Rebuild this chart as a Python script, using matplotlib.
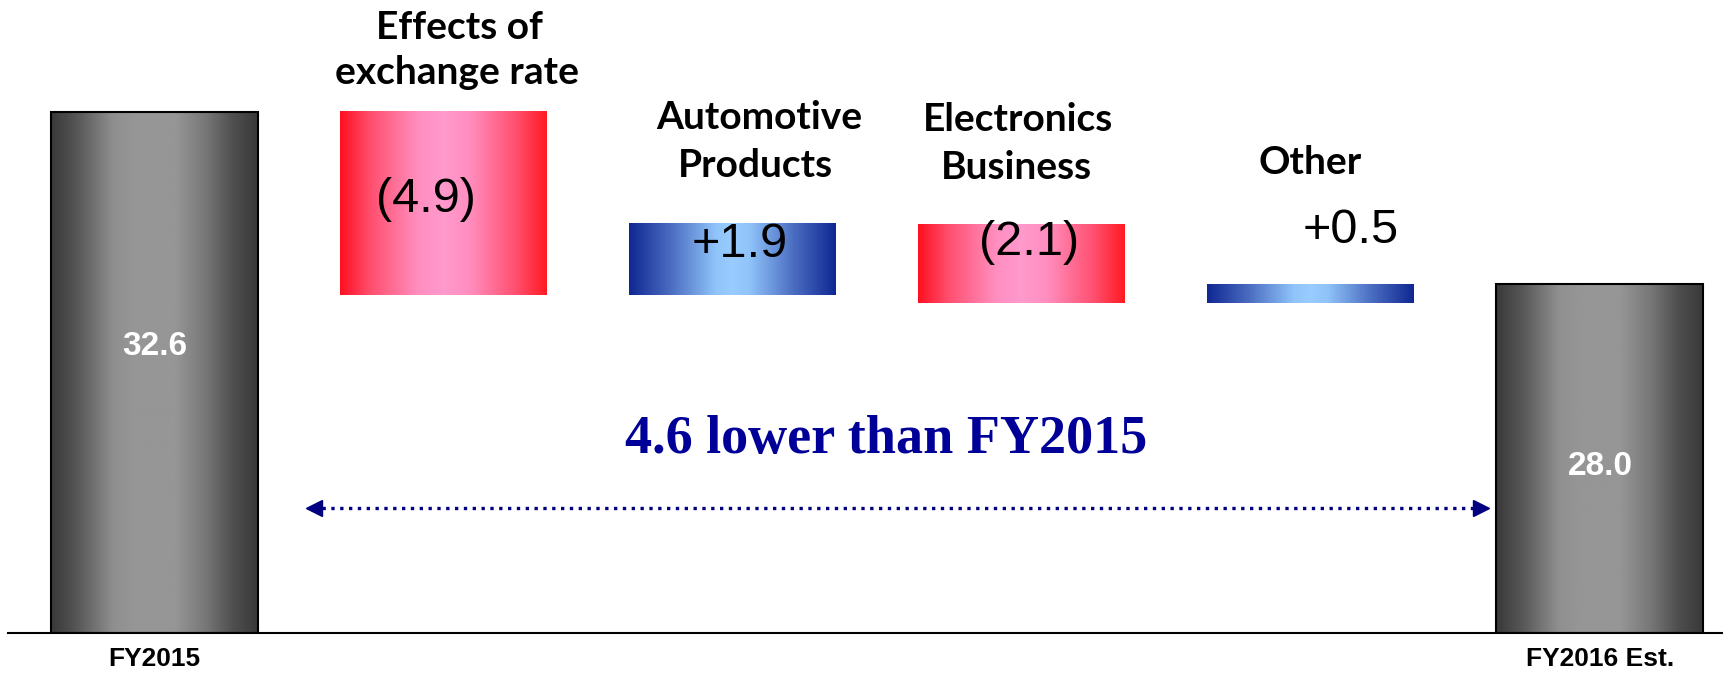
import numpy as np
import matplotlib
matplotlib.use("Agg")
import matplotlib.pyplot as plt
from matplotlib.colors import LinearSegmentedColormap

# ---- data ----
start_label = "FY2015"
end_label = "FY2016 Est."
start_value = 32.6
end_value = 28.0
step_names = [["Effects of", "exchange rate"],
              ["Automotive", "Products"],
              ["Electronics", "Business"],
              ["Other"]]
step_deltas = [-4.9, 1.9, -2.1, 0.5]
note_text = "4.6 lower than FY2015"

# truncated value axis, as on the original slide
AXIS_MIN = 18.66
AXIS_MAX = 35.59

# ---- gradients ----
gray_cmap = LinearSegmentedColormap.from_list("gray", [
    (0.0, "#393939"), (0.12, "#555555"), (0.3, "#8f8f8f"), (0.4, "#969696"),
    (0.6, "#969696"), (0.75, "#777777"), (0.88, "#4f4f4f"), (1.0, "#393939")])
red_cmap = LinearSegmentedColormap.from_list("red", [
    (0.0, "#ff1020"), (0.15, "#ff5070"), (0.38, "#ff8fc0"), (0.5, "#ff99cc"),
    (0.62, "#ff8fc0"), (0.85, "#ff5070"), (1.0, "#ff1a22")])
blue_cmap = LinearSegmentedColormap.from_list("blue", [
    (0.0, "#0f2893"), (0.2, "#4a6cc0"), (0.42, "#90c4fa"), (0.5, "#99ccff"),
    (0.58, "#90c4fa"), (0.8, "#4a6cc0"), (1.0, "#0f2893")])

grad = np.linspace(0, 1, 256).reshape(1, -1)


def fill_gradient(ax, patch, cmap):
    x0, y0 = patch.get_x(), patch.get_y()
    w, h = patch.get_width(), patch.get_height()
    ax.imshow(grad, cmap=cmap, aspect="auto", extent=(x0, x0 + w, y0, y0 + h),
              interpolation="bicubic", zorder=1)


fig = plt.figure(figsize=(17.24, 6.74), dpi=100)
ax = fig.add_axes([8 / 1724, 0.0604, 1 - 8 / 1724, 0.9396])

n = len(step_deltas)
xs = np.arange(n + 2)
width = 0.716

# end bars
ends = ax.bar([xs[0], xs[-1]], [start_value - AXIS_MIN, end_value - AXIS_MIN],
              bottom=AXIS_MIN, width=width, facecolor="none",
              edgecolor="black", linewidth=1.5, zorder=3)
for p in ends:
    fill_gradient(ax, p, gray_cmap)

# floating steps
level = start_value
bottoms, heights = [], []
for d in step_deltas:
    bottoms.append(min(level, level + d))
    heights.append(abs(d))
    level += d
steps = ax.bar(xs[1:-1], heights, bottom=bottoms, width=width,
               facecolor="none", edgecolor="none", zorder=3)
for p, d in zip(steps, step_deltas):
    fill_gradient(ax, p, red_cmap if d < 0 else blue_cmap)

# values inside end bars
val_font = dict(family="Liberation Sans", fontweight="bold", fontsize=24,
                color="white", ha="center", va="baseline", zorder=4)
ax.text(xs[0], 26.10, f"{start_value:.1f}", **val_font)
ax.text(xs[-1], 22.89, f"{end_value:.1f}", **val_font)

# delta labels
delta_pos = [(-0.062, 29.93), (0.025, 28.73), (0.025, 28.77), (0.139, 29.10)]
for x, d, (dx, y) in zip(xs[1:-1], step_deltas, delta_pos):
    lab = f"({abs(d):.1f})" if d < 0 else f"+{d:.1f}"
    ax.text(x + dx, y, lab, family="Liberation Sans", fontsize=35,
            ha="center", va="baseline", zorder=4)

# headings
head_pos = [[(0.055, 34.55), (0.046, 33.35)],
            [(0.093, 32.14), (0.079, 30.86)],
            [(-0.012, 32.09), (-0.017, 30.81)],
            [(-0.003, 30.94)]]
for x, lines, poss in zip(xs[1:-1], step_names, head_pos):
    for line, (dx, y) in zip(lines, poss):
        ax.text(x + dx, y, line, family="Lato", fontweight="bold",
                fontsize=28, ha="center", va="baseline")

# difference note and arrow
navy = "#000080"
ax.text(2.530, 23.48, note_text, family="Liberation Serif", fontweight="bold",
        fontsize=39, color="#000099", ha="center", va="baseline")
ay = 22.0
ax.plot([0.58, 4.56], [ay, ay], color=navy, lw=2.4, ls=":", zorder=2)
ax.plot([0.55], [ay], marker="<", ms=12, color=navy, zorder=2)
ax.plot([4.587], [ay], marker=">", ms=12, color=navy, zorder=2)

ax.set_xlim(-0.507, 5.429)
ax.set_ylim(AXIS_MIN, AXIS_MAX)
ax.set_xticks([xs[0], xs[-1]], [start_label, end_label],
              family="Liberation Sans", fontweight="bold", fontsize=19)
ax.tick_params(axis="x", length=0, pad=10)
ax.set_yticks([])
for s in ["left", "top", "right"]:
    ax.spines[s].set_visible(False)
ax.spines["bottom"].set_linewidth(1.5)

fig.savefig("out.png", dpi=100)
